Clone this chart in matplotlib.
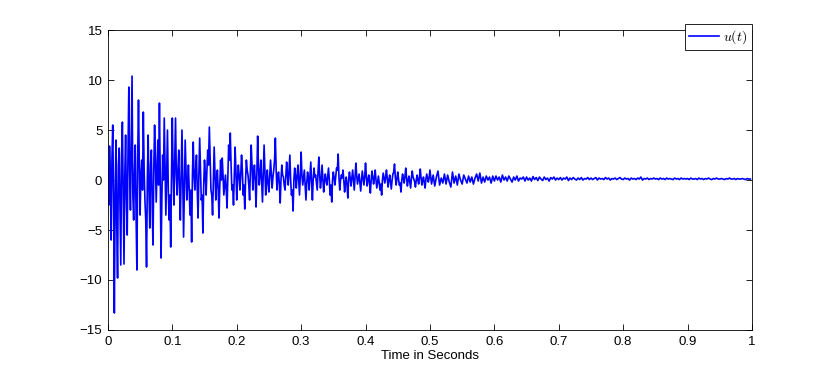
import numpy as np
import matplotlib
matplotlib.use("Agg")
import matplotlib.pyplot as plt

plt.rcParams['font.family'] = ['Liberation Sans', 'DejaVu Sans']
plt.rcParams['mathtext.fontset'] = 'cm'

# sample spacing (seconds): finer in the first half where the signal is busy
dt_fast = 0.00125
dt_slow = 0.0025

# u(t), one list per 0.1 s
u_00 = [1.0, -2.5, 3.4, 0.5, -6.0, 2.0, 5.5, -1.5, -13.3, -2.0, 4.0, -4.5, -9.8, 1.5, 3.2, -3.0, -8.5, 2.5, 5.8, -1.0,
        -8.4, 0.5, 4.5, -2.0, -5.5, 3.0, 9.3, 1.0, -3.0, 4.0, 10.4, -1.5, -4.0, 0.8, 3.5, -3.5, -9.0, 2.0, 8.0, 1.5,
        -3.5, 0.5, 2.0, -1.0, 6.8, 1.0, -2.0, -4.0, -8.7, 0.0, 4.5, -1.0, -4.8, 1.5, 3.0, -2.5, -6.5, 1.0, 5.5, 2.0,
        -2.2, 1.0, 4.0, -0.5, 7.7, 0.5, -7.8, -2.0, 2.5, 0.0, 6.2, 1.5, -3.5, 0.5, 5.0, -1.0, -4.0, -1.5, -6.7, 0.5]
u_01 = [6.2, 1.0, -2.5, 2.0, 6.2, 0.5, -1.5, 1.0, 3.0, -1.0, -4.0, 0.5, 5.0, 0.0, -5.7, -1.0, 4.0, 1.0, -2.0, -0.5,
        1.5, -1.0, -3.5, -1.0, -6.2, 0.5, 3.8, 0.5, -1.0, 1.0, 2.5, -1.0, -3.8, 0.5, 4.2, 1.0, -2.0, -1.5, -5.3, -0.5,
        2.0, 0.5, -1.5, 1.0, 3.0, 1.5, 5.3, 2.0, -1.0, -1.5, -3.5, 0.0, 3.3, 0.5, -2.0, 0.0, 1.0, -1.0, -3.8, -0.5,
        2.0, 0.0, 2.2, 0.5, -1.5, -0.5, 0.5, -1.0, -2.8, 0.5, 3.5, 2.0, 4.7, 1.5, -1.0, -0.5, -2.5, 0.5, 3.3, 1.0]
u_02 = [-2.0, 0.0, 1.5, 0.5, -1.0, 0.5, 2.5, 1.0, -1.5, -0.5, -2.9, 0.0, 2.0, 1.0, 0.5, -0.5, -2.0, 1.0, 3.5, 1.5,
        -1.0, 0.5, 1.5, 0.0, -2.7, 0.5, 4.4, 1.5, -0.5, 0.5, 2.0, 0.0, -2.2, 0.5, 3.5, 1.0, -1.5, 0.0, 1.0, -0.5,
        -1.2, 0.5, 2.0, 0.5, -0.8, 0.3, 1.0, 2.0, 4.2, 1.0, -1.0, 0.5, 0.8, -0.5, -2.3, 0.0, 1.5, 0.5, 0.3, -0.5,
        -1.0, 0.5, 1.8, 0.5, -0.5, 1.0, 2.5, 0.0, -1.5, -1.0, -3.1, 0.0, 1.2, 0.3, -0.8, 0.5, 1.5, 0.0, -1.5, 0.5]
u_03 = [2.8, 0.5, -0.5, 0.3, 1.0, -0.5, -2.0, -0.3, 0.8, 0.2, -1.0, 0.5, 1.8, 0.0, -2.0, 0.0, 1.2, 0.3, 0.5, -0.3,
        -1.0, 0.8, 2.3, 0.5, -0.8, 0.0, 1.5, 0.2, -1.2, -0.2, 0.6, 0.0, -0.5, 0.4, 1.2, 0.0, -1.5, -0.5, -2.2, 0.0,
        0.8, 0.2, -0.5, 0.3, 1.2, 1.0, 2.6, 0.3, -1.0, 0.0, 0.5, 0.2, 1.0, 0.0, -1.2, -0.3, 0.3, -0.5, -1.8, 0.0,
        0.8, 0.2, -0.6, 0.2, 1.0, 0.0, -1.0, 0.3, 1.7, 0.5, -0.4, 0.1, 0.6, -0.3, -1.1, 0.0, 0.9, 0.2, -0.5, 0.3]
u_04 = [1.7, 0.4, -0.6, 0.0, 0.5, -0.3, -1.3, 0.0, 0.9, 0.3, -0.4, 0.2, 1.0, 0.0, -0.8, -0.2, 0.4, -0.3, -1.0, -0.4,
        -1.5, 0.0, 0.7, 0.2, -0.3, 0.3, 1.0, 0.2, -0.7, 0.0, 0.5, -0.2, -0.9, 0.0, 0.6, 0.8, 1.6, 0.3, -0.5, 0.1,
        0.8, 0.1, -0.5, -0.3, -1.2, 0.0, 0.6, 0.1, -0.3, 0.4, 1.2, 0.2, -0.6, 0.0, 0.4, -0.2, -0.8, 0.2, 0.9, 0.3,
        0.1, -0.2, -0.7, 0.0, 0.5, 0.0, -0.4, 0.3, 1.1, 0.2, -0.5, 0.0, 0.3, -0.3, -0.8, 0.1, 0.6, 0.2, -0.2, 0.2]
u_05 = [1.0, -0.4, 0.5, -0.6, 0.3, 0.9, -0.5, 0.2, -0.3, 0.6, -0.4, 0.5, -0.2, -0.7, 0.8, -0.3, 0.4, -0.5, 0.6, 0.0,
        -0.4, 0.5, 0.1, -0.3, 0.4, -0.2, 0.3, -0.4, 0.2, 0.6, -0.1, 0.7, -0.3, 0.3, -0.2, 0.4, 0.0, 0.3, -0.3, 0.4]
u_06 = [-0.1, 0.4, 0.0, 0.3, -0.2, 0.5, 0.0, 0.3, -0.1, 0.4, 0.1, -0.2, 0.3, 0.0, 0.4, -0.1, 0.2, 0.1, 0.3, -0.1,
        0.3, 0.0, 0.2, -0.1, 0.35, 0.05, 0.25, -0.05, 0.3, 0.1, -0.05, 0.3, 0.05, 0.2, -0.1, 0.25, 0.1, 0.3, 0.0, 0.2]
u_07 = [0.05, 0.25, 0.0, 0.2, 0.1, 0.3, -0.05, 0.2, 0.05, 0.25, 0.1, 0.0, 0.2, 0.05, 0.25, 0.0, 0.15, 0.1, 0.25, 0.05,
        0.2, 0.05, 0.15, 0.25, 0.0, 0.2, 0.1, 0.15, 0.05, 0.25, 0.1, 0.2, 0.0, 0.15, 0.1, 0.2, 0.05, 0.15, 0.25, 0.1]
u_08 = [0.05, 0.2, 0.1, 0.15, 0.0, 0.2, 0.1, 0.15, 0.05, 0.2, 0.1, 0.3, 0.0, 0.15, 0.1, 0.2, 0.05, 0.15, 0.1, 0.2,
        0.1, 0.15, 0.05, 0.2, 0.1, 0.15, 0.05, 0.2, 0.1, 0.15, 0.1, 0.05, 0.2, 0.1, 0.15, 0.05, 0.2, 0.1, 0.15, 0.1]
u_09 = [0.15, 0.05, 0.2, 0.1, 0.1, 0.15, 0.05, 0.2, 0.1, 0.15, 0.05, 0.15, 0.1, 0.2, 0.1, 0.05, 0.15, 0.1, 0.2, 0.1,
        0.1, 0.15, 0.1, 0.05, 0.15, 0.1, 0.2, 0.1, 0.1, 0.15, 0.05, 0.15, 0.1, 0.1, 0.15, 0.1, 0.05, 0.15, 0.1, 0.1]

u_first = u_00 + u_01 + u_02 + u_03 + u_04
u_second = u_05 + u_06 + u_07 + u_08 + u_09
u = np.array(u_first + u_second)
t = np.concatenate([np.arange(len(u_first)) * dt_fast,
                    0.5 + np.arange(len(u_second)) * dt_slow])

fig = plt.figure(figsize=(8.3, 3.72), dpi=100)
ax = fig.add_axes([0.130, 0.113, 0.776, 0.806])

ax.plot(t, u, color='#0000ff', linewidth=1.2, label=r'$u(t)$')

ax.set_xlim(0, 1)
ax.set_ylim(-15, 15)
ax.set_xticks(np.arange(0, 1.01, 0.1))
ax.set_xticklabels(['0', '0.1', '0.2', '0.3', '0.4', '0.5', '0.6', '0.7', '0.8', '0.9', '1'])
ax.set_yticks(np.arange(-15, 16, 5))
ax.set_yticklabels(['\u221215', '\u221210', '\u22125', '0', '5', '10', '15'])
ax.tick_params(direction='in', length=4, width=0.6, labelsize=9.5,
               top=True, right=True, pad=4)
for s in ax.spines.values():
    s.set_linewidth(0.6)
ax.set_xlabel('Time in Seconds', fontsize=9.5, labelpad=2)

leg = ax.legend(loc='upper right', bbox_to_anchor=(1.0, 1.02), borderaxespad=0,
                fancybox=False, framealpha=1, edgecolor='black', fontsize=10,
                handlelength=2.2, handletextpad=0.3, borderpad=0.3)
leg.get_frame().set_linewidth(0.6)

fig.savefig('out.png', dpi=100)
